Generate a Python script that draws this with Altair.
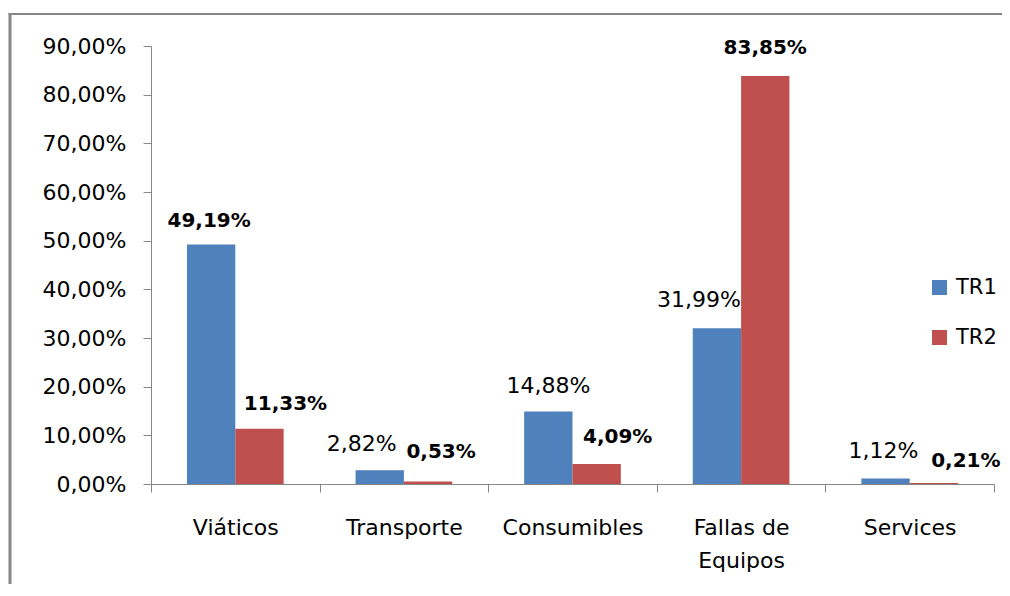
import altair as alt
import pandas as pd

# ---- data ----
categories = ["Viáticos", "Transporte", "Consumibles", "Fallas de\nEquipos", "Services"]
series = ["TR1", "TR2"]
tr1 = [49.19, 2.82, 14.88, 31.99, 1.12]
tr2 = [11.33, 0.53, 4.09, 83.85, 0.21]
y_ticks = [0, 10, 20, 30, 40, 50, 60, 70, 80, 90]

# ---- label styling (manual nudges as in the original) ----
label_dx = [[-2, 26], [-18, 13], [0, 21], [-18, 0], [-2, 32]]
label_dy = [[-18, -19], [-19, -23], [-19, -21], [-21, -22], [-21, -16]]
label_bold = [[True, True], [False, True], [False, True], [False, True], [False, True]]

rows = []
for i, c in enumerate(categories):
    for j, (s, vals) in enumerate(zip(series, [tr1, tr2])):
        rows.append({"cat": c, "serie": s, "value": vals[i]})
df = pd.DataFrame(rows)
df["idx"] = range(len(df))
df["label"] = df["value"].map(lambda v: f"{v:.2f}%".replace(".", ","))

FONT = "DejaVu Sans"

x_scale = alt.Scale(paddingInner=0, paddingOuter=0)
x_enc = alt.X(
    "cat:N",
    sort=categories,
    scale=x_scale,
    axis=alt.Axis(
        title=None,
        labelAngle=0,
        labelExpr="split(datum.label, '\\n')",
        tickBand="extent",
        tickSize=8,
        labelPadding=25,
        labelLineHeight=33,
        labelBaseline="top",
    ),
)
y_enc = alt.Y(
    "value:Q",
    scale=alt.Scale(domain=[0, 90], nice=False),
    axis=alt.Axis(
        title=None,
        values=y_ticks,
        grid=False,
        tickSize=8,
        labelPadding=17,
        labelExpr="replace(format(datum.value, '.2f'), '.', ',') + '%'",
    ),
)
xoff = alt.XOffset("serie:N", sort=series, scale=alt.Scale(paddingInner=0, paddingOuter=0.744))

bars = alt.Chart(df).mark_bar().encode(
    x=x_enc,
    xOffset=xoff,
    y=y_enc,
    color=alt.Color(
        "serie:N",
        scale=alt.Scale(domain=series, range=["#4F81BD", "#C0504D"]),
        legend=alt.Legend(
            title=None,
            orient="none",
            legendX=778,
            legendY=231,
            symbolType="square",
            symbolSize=225,
            symbolStrokeWidth=0,
            labelFontSize=21,
            labelFont=FONT,
            labelColor="black",
            rowPadding=28,
            labelOffset=6,
            padding=0,
        ),
    ),
)

text_layers = []
for i in range(len(categories)):
    for j in range(len(series)):
        k = i * len(series) + j
        t = (
            alt.Chart(df)
            .transform_filter(alt.datum.idx == k)
            .mark_text(
                font=FONT,
                fontSize=20 if label_bold[i][j] else 22,
                fontWeight="bold" if label_bold[i][j] else "normal",
                color="black",
                baseline="alphabetic",
                align="center",
                dx=label_dx[i][j],
                dy=label_dy[i][j],
            )
            .encode(x=alt.X("cat:N", sort=categories, scale=x_scale), xOffset=xoff, y="value:Q", text="label:N")
        )
        text_layers.append(t)

frame_df = pd.DataFrame({"a": [0]})
frame_left = alt.Chart(frame_df).mark_rule(color="#878787", strokeWidth=3).encode(
    x=alt.value(-141), y=alt.value(-33), y2=alt.value(600)
)
frame_top = alt.Chart(frame_df).mark_rule(color="#878787", strokeWidth=2).encode(
    x=alt.value(-142.5), x2=alt.value(900), y=alt.value(-32)
)

chart = (
    alt.layer(bars, *text_layers, frame_left, frame_top)
    .properties(
        width=843,
        height=438,
        padding={"left": 143, "top": 38, "right": 8, "bottom": 100},
        autosize=alt.AutoSizeParams(type="none"),
    )
    .configure_view(stroke=None)
    .configure_axis(
        domainColor="#868686",
        tickColor="#868686",
        labelColor="black",
        labelFont=FONT,
        labelFontSize=22,
    )
)

chart.save("out.html", embed_options={"renderer": "svg", "actions": False})
